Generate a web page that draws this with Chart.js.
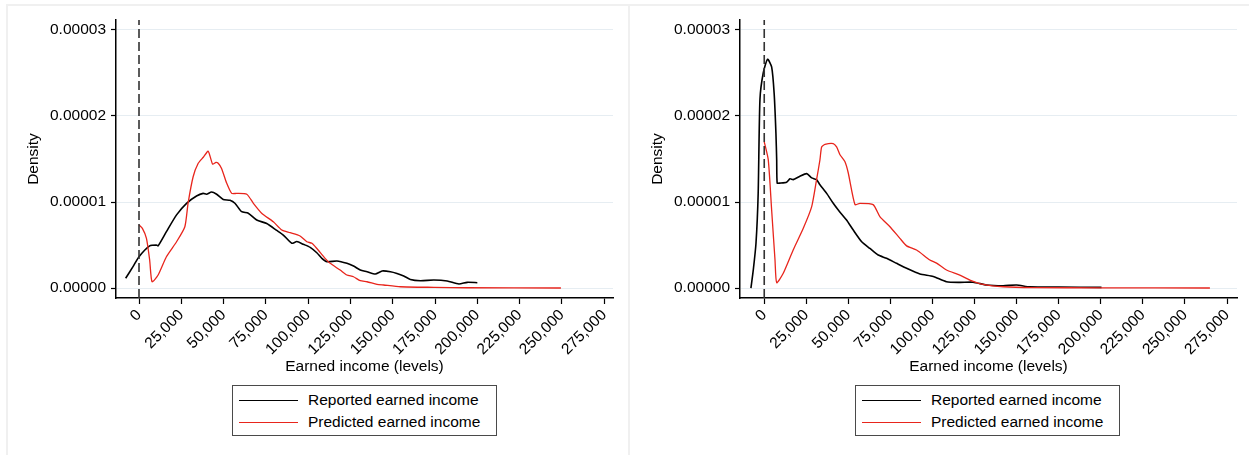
<!DOCTYPE html>
<html>
<head>
<meta charset="utf-8">
<script src="https://cdn.jsdelivr.net/npm/chart.js@4"></script>
<style>
  html, body { margin: 0; padding: 0; background: #fff; }
  body { width: 1249px; height: 455px; overflow: hidden; position: relative; font-family: "Liberation Sans", Arial, Helvetica, sans-serif; }
  .panel { position: absolute; top: 4px; height: 470px; border: 2px solid #f0f0f0; box-sizing: border-box; }
  .wrap { position: absolute; top: 0; width: 625px; height: 455px; }
  .legend { position: absolute; top: 385px; width: 265px; height: 51px; border: 1px solid #4a4a4a; box-sizing: border-box; font-size: 15.5px; color: #000; background: #fff; }
  .row { position: absolute; left: 0; height: 20px; line-height: 20px; white-space: nowrap; }
  .sample { position: absolute; left: 6px; top: 10px; width: 59px; height: 0; }
  .txt { position: absolute; left: 75px; top: 0; }
</style>
</head>
<body>
<div class="panel" style="left:6px;width:624px;"></div>
<div class="panel" style="left:628px;width:624px;"></div>

<div class="wrap" style="left:0px;"><canvas id="leftChart" width="625" height="455"></canvas></div>
<div class="wrap" style="left:624px;"><canvas id="rightChart" width="625" height="455"></canvas></div>

<div class="legend" style="left:232px;">
  <div class="row" style="top:4px;"><div class="sample" style="border-top:1.5px solid #000;"></div><span class="txt">Reported earned income</span></div>
  <div class="row" style="top:26px;"><div class="sample" style="border-top:1.3px solid #e8251c;"></div><span class="txt">Predicted earned income</span></div>
</div>
<div class="legend" style="left:855px;">
  <div class="row" style="top:4px;"><div class="sample" style="border-top:1.5px solid #000;"></div><span class="txt">Reported earned income</span></div>
  <div class="row" style="top:26px;"><div class="sample" style="border-top:1.3px solid #e8251c;"></div><span class="txt">Predicted earned income</span></div>
</div>

<script>
// ---------- Tick labels ----------
const xTicks = [0, 25000, 50000, 75000, 100000, 125000, 150000, 175000, 200000, 225000, 250000, 275000];
const yTicks = [0, 0.00001, 0.00002, 0.00003];
const xTitle = "Earned income (levels)";
const yTitle = "Density";
const seriesNames = ["Reported earned income", "Predicted earned income"];

// ---------- Left panel ----------
const leftReportedIncome = [-7900, -3550, 0, 6300, 10300, 11300, 16200, 22200, 28100, 34000, 37900, 39900, 42900, 45900, 49800, 53800, 56700, 60700, 64600, 69600, 75500, 81400, 85300, 90300, 93300, 97200, 101200, 105100, 108100, 111100, 117000, 122900, 126800, 130800, 134800, 139700, 143700, 148600, 152500, 156500, 160400, 166400, 174300, 182200, 189100, 194000, 200000];
const leftReportedDensity = [1.13e-6, 2.48e-6, 3.64e-6, 4.9e-6, 5.0e-6, 4.9e-6, 6.55e-6, 8.5e-6, 9.85e-6, 1.07e-5, 1.10e-5, 1.09e-5, 1.116e-5, 1.09e-5, 1.03e-5, 1.02e-5, 9.85e-6, 8.87e-6, 8.7e-6, 7.9e-6, 7.5e-6, 6.7e-6, 6.16e-6, 5.2e-6, 5.4e-6, 5.08e-6, 4.73e-6, 4.1e-6, 3.45e-6, 3.06e-6, 3.14e-6, 2.87e-6, 2.56e-6, 2.09e-6, 1.9e-6, 1.63e-6, 1.98e-6, 1.9e-6, 1.7e-6, 1.4e-6, 1.0e-6, 0.85e-6, 0.93e-6, 0.81e-6, 0.47e-6, 0.66e-6, 0.62e-6];

const leftPredictedIncome = [0, 2000, 4400, 6300, 7700, 11300, 16200, 22200, 27100, 29000, 32000, 35000, 38000, 40900, 43500, 45500, 46800, 48800, 51800, 54800, 57700, 63700, 67600, 72500, 79400, 84400, 89300, 95200, 99200, 102200, 105100, 110000, 113000, 118900, 122900, 126800, 130800, 134800, 140700, 144600, 154500, 174300, 194000, 249400];
const leftPredictedDensity = [7.33e-6, 6.94e-6, 5.78e-6, 3.26e-6, 0.73e-6, 1.51e-6, 3.64e-6, 5.38e-6, 7.13e-6, 9.85e-6, 1.294e-5, 1.45e-5, 1.52e-5, 1.59e-5, 1.44e-5, 1.46e-5, 1.45e-5, 1.39e-5, 1.22e-5, 1.10e-5, 1.10e-5, 1.09e-5, 9.85e-6, 8.7e-6, 7.7e-6, 6.74e-6, 6.43e-6, 6.05e-6, 5.38e-6, 5.2e-6, 4.6e-6, 3.45e-6, 2.87e-6, 2.09e-6, 1.51e-6, 1.31e-6, 0.85e-6, 0.73e-6, 0.43e-6, 0.35e-6, 0.15e-6, 0.08e-6, 0.03e-6, 0];

// ---------- Right panel ----------
const rightReportedIncome = [-7900, -6500, -4900, -3600, -2550, -600, 2000, 4400, 5900, 6950, 7400, 7700, 9300, 13300, 15300, 17200, 21200, 25200, 28200, 31100, 33100, 37100, 41000, 44000, 48900, 52900, 57900, 62800, 67700, 72700, 78600, 84600, 92500, 100400, 108300, 116200, 124100, 132100, 142000, 149900, 157800, 175000, 200400];
const rightReportedDensity = [0, 2.1e-6, 5.2e-6, 1.10e-5, 2.19e-5, 2.5e-5, 2.66e-5, 2.57e-5, 2.26e-5, 1.80e-5, 1.49e-5, 1.22e-5, 1.22e-5, 1.23e-5, 1.27e-5, 1.26e-5, 1.30e-5, 1.33e-5, 1.28e-5, 1.26e-5, 1.20e-5, 1.10e-5, 9.85e-6, 9.07e-6, 7.9e-6, 6.74e-6, 5.38e-6, 4.6e-6, 3.84e-6, 3.45e-6, 2.87e-6, 2.29e-6, 1.63e-6, 1.35e-6, 0.73e-6, 0.66e-6, 0.68e-6, 0.35e-6, 0.27e-6, 0.35e-6, 0.13e-6, 0.1e-6, 0.08e-6];

const rightPredictedIncome = [0, 2400, 4400, 6400, 7400, 11300, 17200, 23200, 28200, 31100, 33100, 34100, 36100, 41000, 43000, 45000, 47900, 49900, 53900, 56800, 64700, 68700, 74700, 80600, 84600, 90500, 98400, 102400, 108300, 116200, 122200, 130100, 142000, 160000, 200000, 264800];
const rightPredictedDensity = [1.70e-5, 1.49e-5, 9.07e-6, 3.26e-6, 0.62e-6, 1.71e-6, 4.42e-6, 6.94e-6, 9.46e-6, 1.26e-5, 1.49e-5, 1.64e-5, 1.67e-5, 1.68e-5, 1.64e-5, 1.55e-5, 1.47e-5, 1.34e-5, 9.7e-6, 9.85e-6, 9.7e-6, 8.3e-6, 7.13e-6, 5.78e-6, 4.9e-6, 4.42e-6, 3.26e-6, 2.9e-6, 2.09e-6, 1.51e-6, 0.93e-6, 0.43e-6, 0.15e-6, 0.05e-6, 0.02e-6, 0];

// ---------- Axis ranges ----------
const leftXRange = [-13600, 280200];
const rightXRange = [-14400, 280900];
const yRange = [-0.00000116, 0.00003116];

const FONT = { family: '"Liberation Sans", Arial, Helvetica, sans-serif', size: 15.5 };
Chart.defaults.color = '#000';
Chart.defaults.font.family = FONT.family;
Chart.defaults.font.size = FONT.size;

function zip(xs, ys) { return xs.map((x, i) => ({ x: x, y: ys[i] })); }

function makeChart(id, repX, repY, preX, preY, xRange) {
  new Chart(document.getElementById(id), {
    type: 'line',
    data: {
      datasets: [
        { label: seriesNames[0], data: zip(repX, repY), borderColor: '#000', borderWidth: 1.6, pointRadius: 0, tension: 0.2, order: 3 },
        { label: seriesNames[1], data: zip(preX, preY), borderColor: '#e8251c', borderWidth: 1.3, pointRadius: 0, tension: 0.2, order: 2 },
        { label: 'x = 0', data: [{ x: 0, y: yRange[0] }, { x: 0, y: yRange[1] }], borderColor: '#333', borderWidth: 1.6, borderDash: [9, 4], pointRadius: 0, order: 1 }
      ]
    },
    options: {
      responsive: false,
      animation: false,
      events: [],
      layout: { padding: { left: 20, right: 12, top: 20, bottom: 75 } },
      plugins: { legend: { display: false }, tooltip: { enabled: false } },
      scales: {
        x: {
          type: 'linear', min: xRange[0], max: xRange[1],
          afterBuildTicks: s => { s.ticks = xTicks.map(v => ({ value: v })); },
          afterFit: s => { s.height = 82; },
          ticks: { minRotation: 45, maxRotation: 45, autoSkip: false, padding: 2, color: '#000', font: FONT,
                   callback: v => Number(v).toLocaleString('en-US') },
          grid: { drawOnChartArea: false, tickColor: '#000', tickLength: 6, tickWidth: 1.2 },
          border: { color: '#000', width: 1.5 },
          title: { display: true, text: xTitle, color: '#000', font: FONT, padding: { top: 4, bottom: 4 } }
        },
        y: {
          type: 'linear', min: yRange[0], max: yRange[1],
          afterBuildTicks: s => { s.ticks = yTicks.map(v => ({ value: v })); },
          afterFit: s => { s.width = 96; },
          ticks: { padding: 5, color: '#000', font: FONT, callback: v => Number(v).toFixed(5) },
          grid: { color: '#e6edf2', lineWidth: 1, tickColor: '#000', tickLength: 5, tickWidth: 1.2 },
          border: { color: '#000', width: 1.5 },
          title: { display: true, text: yTitle, color: '#000', font: FONT, padding: { top: 4, bottom: 4 } }
        }
      }
    }
  });
}

makeChart('leftChart', leftReportedIncome, leftReportedDensity, leftPredictedIncome, leftPredictedDensity, leftXRange);
makeChart('rightChart', rightReportedIncome, rightReportedDensity, rightPredictedIncome, rightPredictedDensity, rightXRange);
</script>
</body>
</html>
